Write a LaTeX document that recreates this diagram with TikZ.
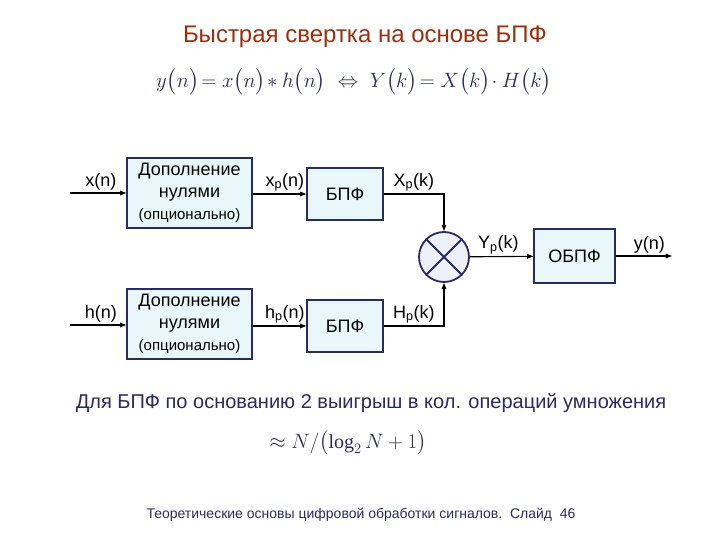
\documentclass[tikz,border=0pt]{standalone}
\usepackage{amsmath,amssymb}
\usepackage{fontspec}
\setmainfont{Liberation Sans}
\setmathrm{Liberation Serif}
\usetikzlibrary{positioning,arrows.meta}
\definecolor{navy}{RGB}{40,42,105}
\definecolor{boxfill}{RGB}{232,247,250}
\definecolor{mixfill}{RGB}{238,240,250}
\definecolor{ttl}{RGB}{160,45,10}

\begin{document}
\begin{tikzpicture}[x=1pt,y=-1pt,>={Triangle[length=2.2mm,width=1.6mm]},
  blk/.style={draw=navy,line width=1.3pt,fill=boxfill,align=center,inner sep=2pt},
  pad/.style={blk,minimum width=125pt,minimum height=70pt,font=\fontsize{18}{22}\selectfont},
  fft/.style={blk,minimum width=76pt,minimum height=52pt,font=\fontsize{18}{21}\selectfont},
  mix/.style={draw=navy,line width=1.8pt,fill=mixfill,circle,minimum size=50pt,inner sep=0pt},
  sig/.style={->,line width=1.1pt},
  lbl/.style={font=\fontsize{18}{21}\selectfont,inner sep=2pt}]
  \useasboundingbox (0,0) rectangle (720,540);
  % title and formula
  \node[text=ttl,font=\fontsize{24}{28}\selectfont] (title) at (365,37) {Быстрая свертка на основе БПФ};
  \node[text=navy,font=\fontsize{22}{26}\selectfont] (eq) at (354,82)
    {$y\bigl(n\bigr)\!=x\bigl(n\bigr)\!*h\bigl(n\bigr)\;\Leftrightarrow\;Y\bigl(k\bigr)\!=X\bigl(k\bigr)\!\cdot H\bigl(k\bigr)$};
  % upper branch
  \coordinate (xin) at (70,193);
  \node[pad] (padx) at (189.5,193) {Дополнение\\нулями\\{\fontsize{15}{22}\selectfont(опционально)}};
  \node[fft] (fftx) at (345,194) {БПФ};
  % lower branch
  \coordinate (hin) at (70,325);
  \node[pad] (padh) at (189.5,324) {Дополнение\\нулями\\{\fontsize{15}{22}\selectfont(опционально)}};
  \node[fft] (ffth) at (345,326) {БПФ};
  % product and inverse
  \node[mix] (mul) at (444,257) {};
  \draw[navy,line width=1.8pt] (mul.north east) -- (mul.south west) (mul.north west) -- (mul.south east);
  \node[fft,minimum width=81pt,minimum height=54pt] (ifft) at (574.5,256) {ОБПФ};
  \coordinate (yout) at (672,256);
  % connectors
  \draw[sig] (xin) -- node[lbl,above,pos=0.55]{x(n)} (padx.west |- xin);
  \draw[sig] (padx.east |- fftx) -- node[lbl,above,pos=0.6]{x$_\text{p}$(n)} (fftx);
  \draw[sig] (fftx) -| node[lbl,above,pos=0.25]{X$_\text{p}$(k)} (mul);
  \draw[sig] (hin) -- node[lbl,above,pos=0.55]{h(n)} (padh.west |- hin);
  \draw[sig] (padh.east |- ffth) -- node[lbl,above,pos=0.6]{h$_\text{p}$(n)} (ffth);
  \draw[sig] (ffth) -| node[lbl,above,pos=0.25]{H$_\text{p}$(k)} (mul);
  \draw[sig] (mul) -- node[lbl,above,pos=0.45]{Y$_\text{p}$(k)} (ifft);
  \draw[sig] (ifft) -- node[lbl,above,pos=0.6]{y(n)} (yout);
  % gain note
  \node[text=navy,inner sep=0pt,font=\fontsize{20}{24}\selectfont] (note) at (371,403)
    {Для БПФ по основанию 2 выигрыш в кол. операций умножения};
  \node[text=navy,inner sep=0pt,font=\fontsize{20}{24}\selectfont] (gain) at (348,443)
    {$\approx N/\bigl(\log_2 N+1\bigr)$};
  \node[text=navy,font=\fontsize{14}{17}\selectfont] (foot) at (361,515)
    {Теоретические основы цифровой обработки сигналов.\ \ Слайд\ \ 46};
\end{tikzpicture}
\end{document}
